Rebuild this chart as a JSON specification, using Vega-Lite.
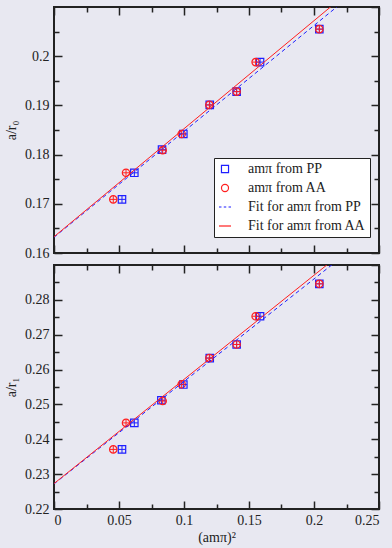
{
  "$schema": "https://vega.github.io/schema/vega-lite/v6.json",
  "background": "#e8e8f1",
  "padding": {"left": 3, "top": 5, "right": 12, "bottom": 4},
  "config": {
    "view": {"stroke": "#222222", "strokeWidth": 2, "fill": "#e8e8f1"},
    "font": "Liberation Serif",
    "axis": {"grid": false, "domain": false, "tickColor": "#222222", "tickWidth": 1.5, "labelFont": "Liberation Serif", "labelFontSize": 14, "labelColor": "#222222", "titleFont": "Liberation Serif", "titleFontSize": 14, "titleFontWeight": "normal", "titleColor": "#222222"},
    "legend": {"labelFont": "Liberation Serif", "labelFontSize": 14, "labelColor": "#222222"}
  },
  "datasets": {
    "pts": [
      {"panel": "r0", "x": 0.0523, "y": 0.1709, "s": "amπ from PP"},
      {"panel": "r0", "x": 0.0618, "y": 0.1763, "s": "amπ from PP"},
      {"panel": "r0", "x": 0.0831, "y": 0.1810, "s": "amπ from PP"},
      {"panel": "r0", "x": 0.0995, "y": 0.1842, "s": "amπ from PP"},
      {"panel": "r0", "x": 0.1198, "y": 0.1901, "s": "amπ from PP"},
      {"panel": "r0", "x": 0.1405, "y": 0.1928, "s": "amπ from PP"},
      {"panel": "r0", "x": 0.1585, "y": 0.1988, "s": "amπ from PP"},
      {"panel": "r0", "x": 0.2041, "y": 0.2055, "s": "amπ from PP"},
      {"panel": "r0", "x": 0.0456, "y": 0.1709, "s": "amπ from AA"},
      {"panel": "r0", "x": 0.0554, "y": 0.1763, "s": "amπ from AA"},
      {"panel": "r0", "x": 0.0836, "y": 0.1809, "s": "amπ from AA"},
      {"panel": "r0", "x": 0.0982, "y": 0.1842, "s": "amπ from AA"},
      {"panel": "r0", "x": 0.1195, "y": 0.1901, "s": "amπ from AA"},
      {"panel": "r0", "x": 0.1405, "y": 0.1928, "s": "amπ from AA"},
      {"panel": "r0", "x": 0.1551, "y": 0.1988, "s": "amπ from AA"},
      {"panel": "r0", "x": 0.2041, "y": 0.2055, "s": "amπ from AA"},
      {"panel": "r1", "x": 0.0523, "y": 0.2371, "s": "amπ from PP"},
      {"panel": "r1", "x": 0.0618, "y": 0.2447, "s": "amπ from PP"},
      {"panel": "r1", "x": 0.0826, "y": 0.2512, "s": "amπ from PP"},
      {"panel": "r1", "x": 0.0995, "y": 0.2557, "s": "amπ from PP"},
      {"panel": "r1", "x": 0.1198, "y": 0.2633, "s": "amπ from PP"},
      {"panel": "r1", "x": 0.1405, "y": 0.2672, "s": "amπ from PP"},
      {"panel": "r1", "x": 0.1585, "y": 0.2753, "s": "amπ from PP"},
      {"panel": "r1", "x": 0.2041, "y": 0.2846, "s": "amπ from PP"},
      {"panel": "r1", "x": 0.0456, "y": 0.2371, "s": "amπ from AA"},
      {"panel": "r1", "x": 0.0554, "y": 0.2447, "s": "amπ from AA"},
      {"panel": "r1", "x": 0.0836, "y": 0.2510, "s": "amπ from AA"},
      {"panel": "r1", "x": 0.0982, "y": 0.2558, "s": "amπ from AA"},
      {"panel": "r1", "x": 0.1195, "y": 0.2633, "s": "amπ from AA"},
      {"panel": "r1", "x": 0.1405, "y": 0.2672, "s": "amπ from AA"},
      {"panel": "r1", "x": 0.1551, "y": 0.2753, "s": "amπ from AA"},
      {"panel": "r1", "x": 0.2041, "y": 0.2846, "s": "amπ from AA"}
    ],
    "fits": [
      {"panel": "r0", "x": 0, "y": 0.1632, "s": "Fit for amπ from PP"},
      {"panel": "r0", "x": 0.25, "y": 0.2170, "s": "Fit for amπ from PP"},
      {"panel": "r0", "x": 0, "y": 0.1633, "s": "Fit for amπ from AA"},
      {"panel": "r0", "x": 0.25, "y": 0.2182, "s": "Fit for amπ from AA"},
      {"panel": "r1", "x": 0, "y": 0.2272, "s": "Fit for amπ from PP"},
      {"panel": "r1", "x": 0.25, "y": 0.3007, "s": "Fit for amπ from PP"},
      {"panel": "r1", "x": 0, "y": 0.2273, "s": "Fit for amπ from AA"},
      {"panel": "r1", "x": 0.25, "y": 0.3020, "s": "Fit for amπ from AA"}
    ]
  },
  "spacing": 2,
  "vconcat": [
    {
      "width": 325,
      "height": 246,
      "resolve": {"axis": {"x": "independent", "y": "independent"}},
      "layer": [
        {
          "data": {"name": "pts"},
          "transform": [{"filter": "datum.panel === 'r0'"}],
          "mark": {"type": "point", "filled": false, "strokeWidth": 1.2, "size": 55, "opacity": 1},
          "encoding": {
            "x": {"field": "x", "type": "quantitative", "scale": {"domain": [0, 0.25], "nice": false}, "axis": {"orient": "bottom", "values": [0, 0.05, 0.1, 0.15, 0.2, 0.25], "tickSize": -8, "labels": false, "title": null}},
            "y": {"field": "y", "type": "quantitative", "scale": {"domain": [0.16, 0.21], "nice": false, "zero": false}, "axis": {"orient": "left", "values": [0.16, 0.17, 0.18, 0.19, 0.2], "format": "~g", "tickSize": -8, "labelPadding": 13, "title": "a/r₀", "titlePadding": 6}},
            "color": {"field": "s", "type": "nominal",
              "scale": {"domain": ["amπ from PP", "amπ from AA", "Fit for amπ from PP", "Fit for amπ from AA"], "range": ["#1f1fff", "#ff1f1f", "#1f1fff", "#ff1f1f"]},
              "legend": {"title": null, "orient": "none", "legendX": 160, "legendY": 151, "fillColor": "#ffffff", "strokeColor": "#222222", "padding": 4, "rowPadding": 5, "labelOffset": 16, "symbolSize": 50, "symbolStrokeWidth": 1.2}},
            "shape": {"field": "s", "type": "nominal",
              "scale": {"domain": ["amπ from PP", "amπ from AA", "Fit for amπ from PP", "Fit for amπ from AA"], "range": ["square", "circle", "M-1.7,0L-1.0,0M-0.35,0L0.35,0M1.0,0L1.7,0", "M-1.7,0L1.7,0"]},
              "legend": {"title": null, "orient": "none", "legendX": 160, "legendY": 151, "fillColor": "#ffffff", "strokeColor": "#222222", "padding": 4, "rowPadding": 5, "labelOffset": 16, "symbolSize": 50, "symbolStrokeWidth": 1.2}}
          }
        },
        {
          "data": {"name": "pts"},
          "transform": [{"filter": "datum.panel === 'r0' && datum.s === 'amπ from PP'"}],
          "mark": {"type": "point", "filled": false, "strokeWidth": 1, "size": 50, "shape": "M-1,0L1,0M0,-1L0,1", "opacity": 1, "color": "#1f1fff"},
          "encoding": {
            "x": {"field": "x", "type": "quantitative", "axis": {"orient": "bottom", "values": [0.025, 0.075, 0.125, 0.175, 0.225], "tickSize": -5, "labels": false, "title": null}},
            "y": {"field": "y", "type": "quantitative", "axis": {"orient": "left", "values": [0.165, 0.175, 0.185, 0.195, 0.205], "tickSize": -5, "labels": false, "title": null}}
          }
        },
        {
          "data": {"name": "pts"},
          "transform": [{"filter": "datum.panel === 'r0' && datum.s === 'amπ from AA'"}],
          "mark": {"type": "point", "filled": false, "strokeWidth": 1, "size": 50, "shape": "M-1,0L1,0M0,-1L0,1", "opacity": 1, "color": "#ff1f1f"},
          "encoding": {
            "x": {"field": "x", "type": "quantitative", "axis": {"orient": "top", "values": [0, 0.05, 0.1, 0.15, 0.2, 0.25], "tickSize": -8, "labels": false, "title": null}},
            "y": {"field": "y", "type": "quantitative", "axis": {"orient": "right", "values": [0.16, 0.17, 0.18, 0.19, 0.2, 0.21], "tickSize": -8, "labels": false, "title": null}}
          }
        },
        {
          "data": {"name": "fits"},
          "transform": [{"filter": "datum.panel === 'r0' && datum.s === 'Fit for amπ from PP'"}],
          "mark": {"type": "line", "clip": true, "strokeWidth": 1, "strokeDash": [4, 3], "color": "#1f1fff"},
          "encoding": {
            "x": {"field": "x", "type": "quantitative", "axis": {"orient": "top", "values": [0.025, 0.075, 0.125, 0.175, 0.225], "tickSize": -5, "labels": false, "title": null}},
            "y": {"field": "y", "type": "quantitative", "axis": {"orient": "right", "values": [0.165, 0.175, 0.185, 0.195, 0.205], "tickSize": -5, "labels": false, "title": null}}
          }
        },
        {
          "data": {"name": "fits"},
          "transform": [{"filter": "datum.panel === 'r0' && datum.s === 'Fit for amπ from AA'"}],
          "mark": {"type": "line", "clip": true, "strokeWidth": 1, "color": "#ff1f1f"},
          "encoding": {
            "x": {"field": "x", "type": "quantitative", "axis": null},
            "y": {"field": "y", "type": "quantitative", "axis": null}
          }
        }
      ]
    },
    {
      "width": 325,
      "height": 244,
      "resolve": {"axis": {"x": "independent", "y": "independent"}},
      "layer": [
        {
          "data": {"name": "pts"},
          "transform": [{"filter": "datum.panel === 'r1' && datum.s === 'amπ from PP'"}],
          "mark": {"type": "point", "filled": false, "strokeWidth": 1.2, "size": 55, "opacity": 1, "shape": "square", "color": "#1f1fff"},
          "encoding": {
            "x": {"field": "x", "type": "quantitative", "scale": {"domain": [0, 0.25], "nice": false}, "axis": {"orient": "bottom", "values": [0, 0.05, 0.1, 0.15, 0.2, 0.25], "format": "~g", "tickSize": -8, "labelPadding": 12, "title": "(amπ)²", "titlePadding": 3}},
            "y": {"field": "y", "type": "quantitative", "scale": {"domain": [0.22, 0.29], "nice": false, "zero": false}, "axis": {"orient": "left", "values": [0.22, 0.23, 0.24, 0.25, 0.26, 0.27, 0.28], "format": "~g", "tickSize": -8, "labelPadding": 13, "title": "a/r₁", "titlePadding": 6}}
          }
        },
        {
          "data": {"name": "pts"},
          "transform": [{"filter": "datum.panel === 'r1' && datum.s === 'amπ from AA'"}],
          "mark": {"type": "point", "filled": false, "strokeWidth": 1.2, "size": 55, "opacity": 1, "shape": "circle", "color": "#ff1f1f"},
          "encoding": {
            "x": {"field": "x", "type": "quantitative", "axis": {"orient": "bottom", "values": [0.025, 0.075, 0.125, 0.175, 0.225], "tickSize": -5, "labels": false, "title": null}},
            "y": {"field": "y", "type": "quantitative", "axis": {"orient": "left", "values": [0.225, 0.235, 0.245, 0.255, 0.265, 0.275, 0.285], "tickSize": -5, "labels": false, "title": null}}
          }
        },
        {
          "data": {"name": "pts"},
          "transform": [{"filter": "datum.panel === 'r1' && datum.s === 'amπ from PP'"}],
          "mark": {"type": "point", "filled": false, "strokeWidth": 1, "size": 50, "shape": "M-1,0L1,0M0,-1L0,1", "opacity": 1, "color": "#1f1fff"},
          "encoding": {
            "x": {"field": "x", "type": "quantitative", "axis": {"orient": "top", "values": [0, 0.05, 0.1, 0.15, 0.2, 0.25], "tickSize": -8, "labels": false, "title": null}},
            "y": {"field": "y", "type": "quantitative", "axis": {"orient": "right", "values": [0.22, 0.23, 0.24, 0.25, 0.26, 0.27, 0.28, 0.29], "tickSize": -8, "labels": false, "title": null}}
          }
        },
        {
          "data": {"name": "pts"},
          "transform": [{"filter": "datum.panel === 'r1' && datum.s === 'amπ from AA'"}],
          "mark": {"type": "point", "filled": false, "strokeWidth": 1, "size": 50, "shape": "M-1,0L1,0M0,-1L0,1", "opacity": 1, "color": "#ff1f1f"},
          "encoding": {
            "x": {"field": "x", "type": "quantitative", "axis": {"orient": "top", "values": [0.025, 0.075, 0.125, 0.175, 0.225], "tickSize": -5, "labels": false, "title": null}},
            "y": {"field": "y", "type": "quantitative", "axis": {"orient": "right", "values": [0.225, 0.235, 0.245, 0.255, 0.265, 0.275, 0.285], "tickSize": -5, "labels": false, "title": null}}
          }
        },
        {
          "data": {"name": "fits"},
          "transform": [{"filter": "datum.panel === 'r1' && datum.s === 'Fit for amπ from PP'"}],
          "mark": {"type": "line", "clip": true, "strokeWidth": 1, "strokeDash": [4, 3], "color": "#1f1fff"},
          "encoding": {
            "x": {"field": "x", "type": "quantitative", "axis": null},
            "y": {"field": "y", "type": "quantitative", "axis": null}
          }
        },
        {
          "data": {"name": "fits"},
          "transform": [{"filter": "datum.panel === 'r1' && datum.s === 'Fit for amπ from AA'"}],
          "mark": {"type": "line", "clip": true, "strokeWidth": 1, "color": "#ff1f1f"},
          "encoding": {
            "x": {"field": "x", "type": "quantitative", "axis": null},
            "y": {"field": "y", "type": "quantitative", "axis": null}
          }
        }
      ]
    }
  ]
}
